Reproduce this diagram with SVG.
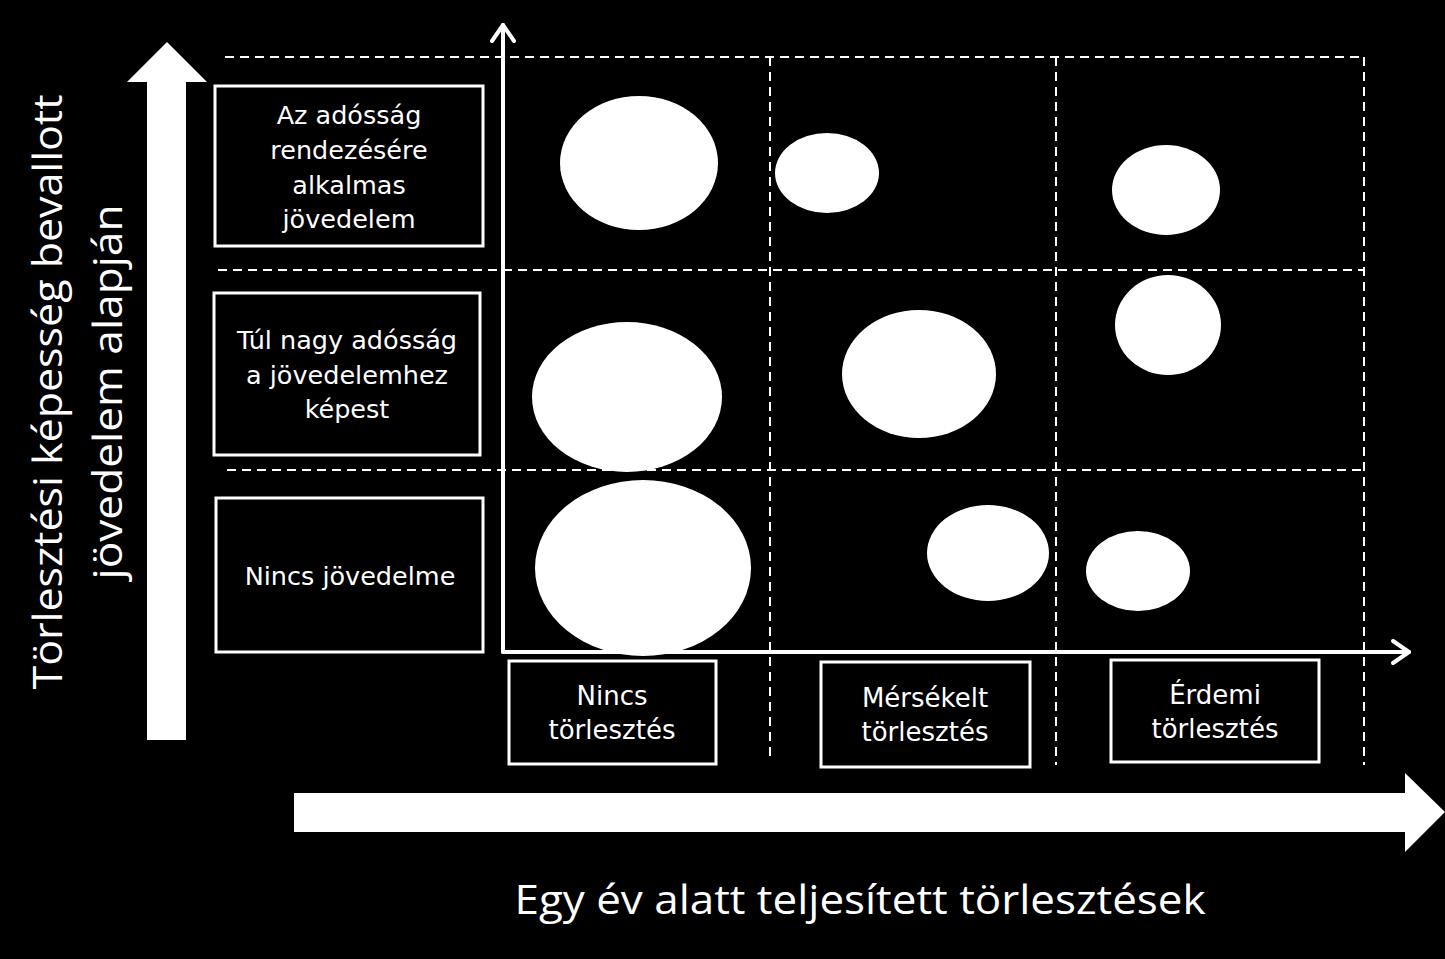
<svg xmlns="http://www.w3.org/2000/svg" width="1445" height="959" viewBox="0 0 1445 959">
<style>
.box{fill:#000;stroke:#fff;stroke-width:3}
.dash{stroke:#fff;stroke-width:2;stroke-dasharray:9 6;fill:none}
.bl{fill:#fff;font-family:"DejaVu Sans",sans-serif;font-size:25.5px;text-anchor:middle}
.bc{fill:#fff;font-family:"DejaVu Sans",sans-serif;font-size:26px;text-anchor:middle}
.title{fill:#fff;font-family:"Open Sans","Liberation Sans",sans-serif;font-size:40px;text-anchor:middle}
.dot{fill:#fff}
.axis{stroke:#fff;stroke-width:4;fill:none;stroke-linecap:round;stroke-linejoin:round}
</style>
<rect x="0" y="0" width="1445" height="959" fill="#000"/>
<g id="grid">
<line class="dash" x1="225" y1="57" x2="1365" y2="57"/>
<line class="dash" x1="218" y1="270" x2="1365" y2="270"/>
<line class="dash" x1="227" y1="470" x2="1365" y2="470"/>
<line class="dash" x1="770" y1="57" x2="770" y2="762"/>
<line class="dash" x1="1056" y1="57" x2="1056" y2="765"/>
<line class="dash" x1="1364" y1="57" x2="1364" y2="765"/>
</g>
<g id="big-arrows">
<polygon fill="#fff" points="147,740 186,740 186,82 207,82 167,42 127,82 147,82"/>
<polygon fill="#fff" points="294,793 1405,793 1405,773 1445,812 1405,852 1405,832 294,832"/>
</g>
<g id="bubbles">
<ellipse class="dot" cx="639" cy="163" rx="79" ry="67"/>
<ellipse class="dot" cx="827" cy="173" rx="52" ry="40"/>
<ellipse class="dot" cx="1166" cy="190" rx="54" ry="45"/>
<ellipse class="dot" cx="627" cy="397" rx="95" ry="75"/>
<ellipse class="dot" cx="919" cy="374" rx="77" ry="64"/>
<ellipse class="dot" cx="1168" cy="325" rx="53" ry="50"/>
<ellipse class="dot" cx="643" cy="568" rx="108" ry="88"/>
<ellipse class="dot" cx="988" cy="553" rx="61" ry="48"/>
<ellipse class="dot" cx="1138" cy="571" rx="52" ry="40"/>
</g>
<g id="axes">
<polyline class="axis" points="503,652 503,25"/>
<polyline class="axis" points="492,41 503,25 514,41"/>
<polyline class="axis" points="503,652 1409,652"/>
<polyline class="axis" points="1393,641 1409,652 1393,663"/>
</g>
<g id="row1">
<rect class="box" x="215" y="86" width="268" height="160"/>
<text class="bl" x="349" y="124">Az adósság</text>
<text class="bl" x="349" y="159">rendezésére</text>
<text class="bl" x="349" y="194">alkalmas</text>
<text class="bl" x="349" y="228">jövedelem</text>
</g>
<g id="row2">
<rect class="box" x="214" y="293" width="266" height="162"/>
<text class="bl" x="347" y="349">Túl nagy adósság</text>
<text class="bl" x="347" y="384">a jövedelemhez</text>
<text class="bl" x="347" y="418">képest</text>
</g>
<g id="row3">
<rect class="box" x="216" y="498" width="267" height="154"/>
<text class="bl" x="350" y="585">Nincs jövedelme</text>
</g>
<g id="col1">
<rect class="box" x="509" y="661" width="207" height="103"/>
<text class="bc" x="612" y="705">Nincs</text>
<text class="bc" x="612" y="739">törlesztés</text>
</g>
<g id="col2">
<rect class="box" x="821" y="662" width="209" height="105"/>
<text class="bc" x="925" y="707">Mérsékelt</text>
<text class="bc" x="925" y="741">törlesztés</text>
</g>
<g id="col3">
<rect class="box" x="1111" y="660" width="208" height="102"/>
<text class="bc" x="1215" y="704">Érdemi</text>
<text class="bc" x="1215" y="738">törlesztés</text>
</g>
<g id="titles">
<text class="title" transform="translate(62,392) rotate(-90)" textLength="595" lengthAdjust="spacingAndGlyphs">Törlesztési képesség bevallott</text>
<text class="title" transform="translate(122,392) rotate(-90)" textLength="375" lengthAdjust="spacingAndGlyphs">jövedelem alapján</text>
<text class="title" x="860" y="914" textLength="691" lengthAdjust="spacingAndGlyphs">Egy év alatt teljesített törlesztések</text>
</g>
</svg>
